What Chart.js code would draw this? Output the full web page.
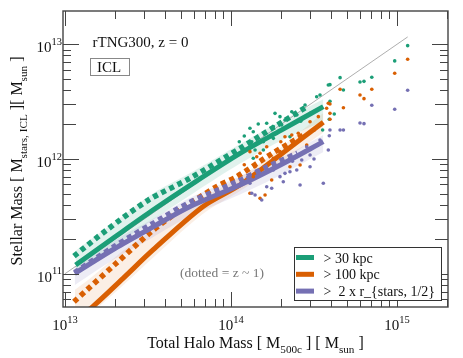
<!DOCTYPE html>
<html>
<head>
<meta charset="utf-8">
<script src="https://cdn.jsdelivr.net/npm/chart.js@4.4.1/dist/chart.umd.min.js"></script>
<style>
  html, body { margin: 0; padding: 0; background: #fff; }
</style>
</head>
<body>
<canvas id="chart" width="463" height="358"></canvas>
<script>
// all values are log10 ( M_500c / M_sun ) and log10 ( M_stars / M_sun )
const refLineX = [13.0, 15.064];
const refLineY = [11.0, 13.064];

const greenSolidX = [13.064, 13.3, 13.53, 13.771, 14.054, 14.3, 14.556];
const greenSolidY = [11.076, 11.32, 11.555, 11.788, 12.049, 12.25, 12.456];
const greenBandHi = [11.2, 11.45, 11.7, 11.89, 12.13, 12.33, 12.52];
const greenBandLo = [10.98, 11.24, 11.47, 11.7, 11.96, 12.16, 12.33];
const greenDotX = [13.054, 13.25, 13.5, 13.75, 14.054, 14.25, 14.45];
const greenDotY = [11.154, 11.38, 11.64, 11.83, 12.093, 12.27, 12.45];

const orangeSolidX = [13.06, 13.169, 13.35, 13.53, 13.83, 14.054, 14.3, 14.556];
const orangeSolidY = [10.6, 10.716, 10.96, 11.207, 11.584, 11.773, 12.04, 12.32];
const orangeBandHi = [10.86, 10.98, 11.2, 11.38, 11.66, 11.84, 12.1, 12.4];
const orangeBandLo = [10.55, 10.67, 10.9, 11.14, 11.52, 11.72, 11.97, 12.23];
const orangeDotX = [13.054, 13.3, 13.52, 13.7, 13.914, 14.034, 14.25, 14.45];
const orangeDotY = [10.756, 11.08, 11.366, 11.56, 11.76, 11.846, 12.05, 12.22];

const purpleSolidX = [13.058, 13.3, 13.52, 13.751, 14.054, 14.3, 14.556];
const purpleSolidY = [11.003, 11.22, 11.4, 11.584, 11.773, 11.95, 12.151];
const purpleBandHi = [11.06, 11.29, 11.47, 11.66, 11.85, 12.01, 12.21];
const purpleBandLo = [10.9, 11.13, 11.31, 11.5, 11.69, 11.86, 12.06];
const purpleDotX = [13.058, 13.3, 13.52, 13.75, 14.034, 14.2, 14.4];
const purpleDotY = [11.01, 11.24, 11.43, 11.62, 11.8, 11.92, 12.05];

// individual haloes
const greenHaloX = [15.064, 14.986, 14.848, 14.801, 14.777, 14.657, 14.677, 14.596, 14.596, 14.622, 14.592, 14.552,
  14.114, 14.134, 14.164, 14.215, 14.265, 14.295, 14.325, 14.366, 14.396, 14.446, 14.516, 14.536, 14.586,
  14.125, 14.195, 14.255, 14.145, 14.134, 14.195, 14.255, 14.305, 14.355, 14.08, 14.05, 14.42, 14.48];
const greenHaloY = [12.988, 12.855, 12.712, 12.677, 12.671, 12.709, 12.602, 12.648, 12.503, 12.392, 12.346, 12.253,
  12.268, 12.238, 12.305, 12.311, 12.398, 12.369, 12.34, 12.412, 12.384, 12.471, 12.543, 12.558, 12.645,
  12.151, 12.151, 12.18, 12.078, 12.006, 12.078, 12.282, 12.296, 12.194, 12.2, 12.15, 12.33, 12.4];

const orangeHaloX = [15.064, 14.986, 14.848, 14.777, 14.801, 14.657, 14.677, 14.596, 14.596, 14.596,
  14.114, 14.155, 14.145, 14.175, 14.215, 14.255, 14.295, 14.325, 14.366, 14.405, 14.476, 14.526, 14.586, 14.576,
  14.245, 14.355, 14.416, 14.175, 14.205, 14.134, 14.456, 14.114, 14.08, 14.3, 14.5];
const orangeHaloY = [12.869, 12.747, 12.608, 12.558, 12.526, 12.608, 12.447, 12.48, 12.398, 12.346,
  12.064, 12.02, 11.933, 12.05, 12.107, 12.006, 12.064, 12.194, 12.209, 12.224, 12.325, 12.369, 12.486, 12.442,
  11.817, 11.933, 11.948, 11.657, 11.686, 11.846, 12.122, 11.701, 11.95, 12.15, 12.25];

const purpleHaloX = [15.064, 14.986, 14.848, 14.777, 14.801, 14.677, 14.657, 14.596, 14.592,
  14.114, 14.125, 14.145, 14.185, 14.215, 14.245, 14.315, 14.325, 14.355, 14.416, 14.426, 14.476, 14.476,
  14.556, 14.586, 14.536, 14.456, 14.255, 14.295, 14.396, 14.1, 14.37, 14.5];
const purpleHaloY = [12.599, 12.433, 12.468, 12.314, 12.308, 12.253, 12.253, 12.253, 12.203,
  11.788, 11.701, 11.686, 11.643, 11.758, 11.745, 11.802, 11.875, 11.889, 11.773, 11.991, 12.035, 11.933,
  11.788, 12.078, 12.166, 12.107, 11.904, 11.846, 11.904, 11.84, 11.98, 12.0];

const legendLabels = ['> 30 kpc', '> 100 kpc', '>  2 x r_{stars, 1/2}'];
const xTickDecades = [13, 14, 15];
const yTickDecades = [11, 12, 13];

const GREEN = '#1b9e77', ORANGE = '#d95f02', PURPLE = '#7570b3';
const SERIF = '"Liberation Serif", "DejaVu Serif", serif';

const pts = (xs, ys) => xs.map((x, i) => ({ x: 10 ** x, y: 10 ** ys[i] }));

let order = 100; // drawn first = highest order
const band = (xs, hi, lo, bg) => [
  { data: pts(xs, hi), fill: '+1', backgroundColor: bg, borderWidth: 0, pointRadius: 0, tension: 0.3, order: order-- },
  { data: pts(xs, lo), fill: false, borderWidth: 0, pointRadius: 0, tension: 0.3, order: order-- },
];
const curve = (xs, ys, color, dashed) => ({
  data: pts(xs, ys), borderColor: color, borderWidth: dashed ? 5.5 : 5, borderDash: dashed ? [5, 4] : [],
  borderCapStyle: 'butt', pointRadius: 0, fill: false, tension: 0.3, order: order--,
});
const dots = (xs, ys, color) => ({
  type: 'scatter', data: pts(xs, ys), backgroundColor: color, borderWidth: 0, pointRadius: 1.8, order: order--,
});

const datasets = [
  ...band(orangeSolidX, orangeBandHi, orangeBandLo, 'rgba(217,95,2,0.10)'),
  ...band(greenSolidX, greenBandHi, greenBandLo, 'rgba(27,158,119,0.13)'),
  ...band(purpleSolidX, purpleBandHi, purpleBandLo, 'rgba(117,112,179,0.13)'),
  { data: pts(refLineX, refLineY), borderColor: '#999', borderWidth: 0.8, pointRadius: 0, fill: false, order: order-- },
  curve(greenSolidX, greenSolidY, GREEN, false),
  curve(greenDotX, greenDotY, GREEN, true),
  curve(orangeSolidX, orangeSolidY, ORANGE, false),
  curve(orangeDotX, orangeDotY, ORANGE, true),
  curve(purpleSolidX, purpleSolidY, PURPLE, false),
  curve(purpleDotX, purpleDotY, PURPLE, true),
  dots(greenHaloX, greenHaloY, GREEN),
  dots(orangeHaloX, orangeHaloY, ORANGE),
  dots(purpleHaloX, purpleHaloY, PURPLE),
];

// text with sub / superscripts: parts = [[text, 0 normal | 1 sub | 2 sup], ...]
function richWidth(ctx, parts, size) {
  let w = 0;
  parts.forEach(([t, k]) => {
    ctx.font = `${k ? size * 0.7 : size}px ${SERIF}`;
    w += ctx.measureText(t).width;
  });
  return w;
}
function drawRich(ctx, parts, x, y, size, align) {
  let cx = x;
  if (align === 'center') cx -= richWidth(ctx, parts, size) / 2;
  if (align === 'right') cx -= richWidth(ctx, parts, size);
  ctx.textAlign = 'left';
  ctx.textBaseline = 'alphabetic';
  parts.forEach(([t, k]) => {
    ctx.font = `${k ? size * 0.7 : size}px ${SERIF}`;
    const dy = k === 1 ? size * 0.32 : k === 2 ? -size * 0.5 : 0;
    ctx.fillText(t, cx, y + dy);
    cx += ctx.measureText(t).width;
  });
}

const decorations = {
  id: 'decorations',
  afterDraw(chart) {
    const { ctx, chartArea: a, scales: { x, y } } = chart;
    ctx.save();
    ctx.strokeStyle = '#444';
    ctx.lineWidth = 1;

    // minor / major ticks, pointing inward on all four sides
    ctx.beginPath();
    for (let d = 12; d <= 15; d++) {
      for (let m = 1; m <= 9; m++) {
        const v = m * 10 ** d;
        if (v < x.min || v > x.max) continue;
        const px = Math.round(x.getPixelForValue(v)) + 0.5;
        const len = m === 1 ? 15 : 8;
        ctx.moveTo(px, a.bottom); ctx.lineTo(px, a.bottom - len);
        ctx.moveTo(px, a.top); ctx.lineTo(px, a.top + len);
      }
    }
    for (let d = 10; d <= 13; d++) {
      for (let m = 1; m <= 9; m++) {
        const v = m * 10 ** d;
        if (v < y.min || v > y.max) continue;
        const py = Math.round(y.getPixelForValue(v)) + 0.5;
        const len = m === 1 ? 16 : (m <= 3 ? 13 : 8);
        ctx.moveTo(a.left, py); ctx.lineTo(a.left + len, py);
        ctx.moveTo(a.right, py); ctx.lineTo(a.right - len, py);
      }
    }
    ctx.stroke();

    ctx.lineWidth = 1.4;
    ctx.strokeRect(a.left, a.top, a.right - a.left, a.bottom - a.top);

    // tick labels
    ctx.fillStyle = '#111';
    xTickDecades.forEach((d) => {
      drawRich(ctx, [['10', 0], [String(d), 2]], x.getPixelForValue(10 ** d), a.bottom + 23, 15, 'center');
    });
    yTickDecades.forEach((d) => {
      drawRich(ctx, [['10', 0], [String(d), 2]], a.left - 1, y.getPixelForValue(10 ** d) + 8, 15, 'right');
    });

    // axis titles
    drawRich(ctx, [['Total Halo Mass [ M', 0], ['500c', 1], [' ] [ M', 0], ['sun', 1], [' ]', 0]],
      (a.left + a.right) / 2, 348, 16, 'center');
    ctx.save();
    ctx.translate(22, (a.top + a.bottom) / 2 + 2);
    ctx.rotate(-Math.PI / 2);
    drawRich(ctx, [['Stellar Mass [ M', 0], ['stars, ICL', 1], [' ][ M', 0], ['sun', 1], [' ]', 0]], 0, 0, 16, 'center');
    ctx.restore();

    // annotations
    ctx.font = `15px ${SERIF}`;
    ctx.textAlign = 'left';
    ctx.fillText('rTNG300, z = 0', 92.5, 47);
    ctx.strokeStyle = '#888';
    ctx.lineWidth = 1;
    ctx.strokeRect(90.5, 58.5, 39, 17);
    ctx.fillText('ICL', 97, 72);
    ctx.fillStyle = '#777';
    ctx.font = `13.5px ${SERIF}`;
    ctx.textAlign = 'center';
    ctx.fillText('(dotted = z ~ 1)', 222, 277);

    // legend
    ctx.fillStyle = '#fff';
    ctx.fillRect(294.5, 247.5, 147, 53);
    ctx.strokeStyle = '#333';
    ctx.lineWidth = 1;
    ctx.strokeRect(294.5, 247.5, 147, 53);
    [GREEN, ORANGE, PURPLE].forEach((c, i) => {
      const yy = 257.5 + i * 16.8;
      ctx.fillStyle = c;
      ctx.fillRect(296, yy - 2.5, 18, 5);
      ctx.fillStyle = '#111';
      ctx.font = `14px ${SERIF}`;
      ctx.textAlign = 'left';
      ctx.fillText(legendLabels[i], 323.5, yy + 5);
    });
    ctx.restore();
  },
};

new Chart(document.getElementById('chart'), {
  type: 'line',
  data: { datasets },
  options: {
    responsive: false,
    animation: false,
    devicePixelRatio: 1,
    layout: { padding: { left: 63, right: 15, top: 11, bottom: 51 } },
    scales: {
      x: { type: 'logarithmic', display: false, min: 10 ** 12.988, max: 10 ** 15.307 },
      y: { type: 'logarithmic', display: false, min: 10 ** 10.71, max: 10 ** 13.29 },
    },
    plugins: { legend: { display: false }, tooltip: { enabled: false } },
  },
  plugins: [decorations],
});
</script>
</body>
</html>
